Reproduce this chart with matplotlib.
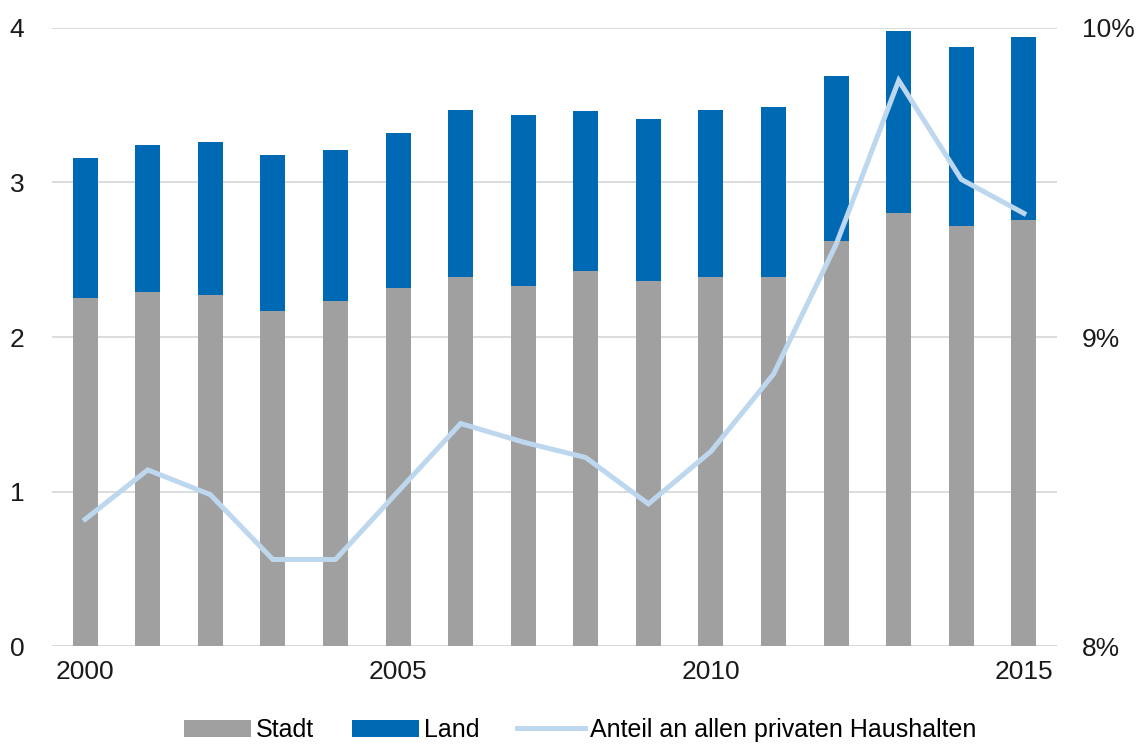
import numpy as np
import matplotlib.pyplot as plt
from matplotlib.ticker import FuncFormatter

plt.rcParams['font.family'] = ['Liberation Sans', 'DejaVu Sans']

years = np.arange(2000, 2016)
stadt = [2.25, 2.29, 2.27, 2.17, 2.23, 2.32, 2.39, 2.33, 2.43, 2.36, 2.39, 2.39, 2.62, 2.80, 2.72, 2.76]
total = [3.16, 3.24, 3.26, 3.18, 3.21, 3.32, 3.47, 3.44, 3.46, 3.41, 3.47, 3.49, 3.69, 3.98, 3.88, 3.94]
land = [t - s for t, s in zip(total, stadt)]
anteil = [8.41, 8.57, 8.49, 8.28, 8.28, 8.50, 8.72, 8.66, 8.61, 8.46, 8.63, 8.88, 9.30, 9.83, 9.51, 9.40]

grau = '#a0a0a0'
blau = '#0069b4'
hellblau = '#bdd7ee'

fig = plt.figure(figsize=(11.37, 7.46), dpi=100)
ax = fig.add_axes([0.0457, 0.134, 0.884, 0.8285])
x = np.arange(len(years))

b1 = ax.bar(x, stadt, width=0.4, color=grau, label='Stadt', zorder=2)
b2 = ax.bar(x, land, width=0.4, bottom=stadt, color=blau, label='Land', zorder=2)

ax.set_xlim(-0.53, len(years) - 0.47)
ax.set_ylim(0, 4)
ax.set_yticks([0, 1, 2, 3, 4])
ax.grid(axis='y', color='#d9d9d9', lw=1.3, zorder=0)
ax.set_xticks(x[::5])
ax.set_xticklabels([str(y) for y in years[::5]])
for s in ax.spines.values():
    s.set_visible(False)
ax.axhline(0, color='#d9d9d9', lw=1.5, zorder=1)
ax.tick_params(axis='both', length=0, labelsize=19, colors='#1a1a1a')
ax.tick_params(axis='x', pad=10)
ax.tick_params(axis='y', pad=20)

ax2 = ax.twinx()
l1, = ax2.plot(x, anteil, color=hellblau, lw=3.6, label='Anteil an allen privaten Haushalten',
               solid_joinstyle='miter', zorder=3)
ax2.set_ylim(8, 10)
ax2.set_yticks([8, 9, 10])
ax2.yaxis.set_major_formatter(FuncFormatter(lambda v, p: f'{v:.0f}%'))
for s in ax2.spines.values():
    s.set_visible(False)
ax2.tick_params(axis='y', length=0, labelsize=19, colors='#1a1a1a', pad=18)

fig.legend(handles=[b1, b2, l1], loc='lower center', bbox_to_anchor=(0.51, -0.025),
           ncol=3, frameon=False, fontsize=18, handlelength=2.7, handletextpad=0.2,
           columnspacing=1.5)

fig.savefig('out.png', dpi=100)
